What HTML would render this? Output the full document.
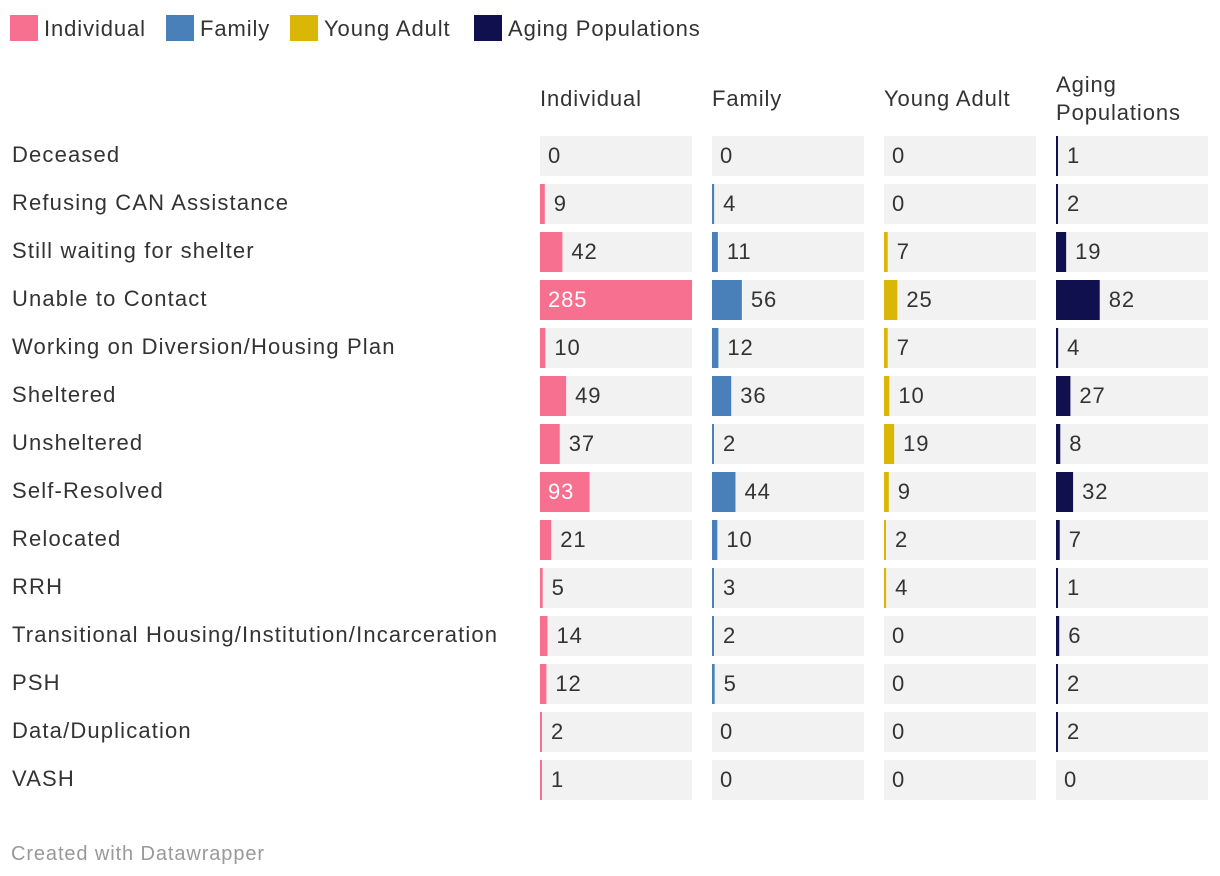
<!DOCTYPE html>
<html><head><meta charset="utf-8"><style>
body{margin:0;background:#fff;font-family:"Liberation Sans",sans-serif;color:#333;}
#wrap{position:relative;width:1220px;height:876px;overflow:hidden;}
.t{position:absolute;white-space:nowrap;font-size:22px;line-height:24px;letter-spacing:0.9px;}
.rl{letter-spacing:1.15px;}
</style></head><body>
<div id="wrap">
<svg id="svg" width="1220" height="876" style="position:absolute;left:0;top:0"></svg>
</div>
<script>
const categories=["Deceased","Refusing CAN Assistance","Still waiting for shelter","Unable to Contact","Working on Diversion/Housing Plan","Sheltered","Unsheltered","Self-Resolved","Relocated","RRH","Transitional Housing/Institution/Incarceration","PSH","Data/Duplication","VASH"];
const seriesNames=["Individual","Family","Young Adult","Aging Populations"];
const individual=[0,9,42,285,10,49,37,93,21,5,14,12,2,1];
const family=[0,4,11,56,12,36,2,44,10,3,2,5,0,0];
const youngAdult=[0,0,7,25,7,10,19,9,2,4,0,0,0,0];
const aging=[1,2,19,82,4,27,8,32,7,1,6,2,2,0];
const series=[individual,family,youngAdult,aging];
const colors=["#f7708f","#4a80b9","#dab607","#10104f"];
const NS="http://www.w3.org/2000/svg";
const svg=document.getElementById('svg');
const wrap=document.getElementById('wrap');
const colX=[540,712,884,1056],colW=152,rowY0=136,rowStep=48,rowH=40;
const maxV=Math.max(...series.flat());
const xs=v=>v/maxV*colW;
const ys=i=>rowY0+i*rowStep;
function txt(s,x,y,opts){const d=document.createElement('div');d.className='t';d.textContent=s;d.style.left=x+'px';d.style.top=y+'px';if(opts&&opts.color)d.style.color=opts.color;if(opts&&opts.size)d.style.fontSize=opts.size+'px';wrap.appendChild(d);return d;}
const legX=[10,166,290,474];
seriesNames.forEach((n,k)=>{const r=document.createElementNS(NS,'rect');r.setAttribute('x',legX[k]);r.setAttribute('y',15);r.setAttribute('width',28);r.setAttribute('height',26);r.setAttribute('fill',colors[k]);


svg.appendChild(r);
const d=txt(n,legX[k]+34,17);

});
const hdrs=["Individual","Family","Young Adult","Aging\nPopulations"];
hdrs.forEach((h,k)=>{const lines=h.split("\n");lines.forEach((l,j)=>{const d=txt(l,colX[k],(lines.length>1?73:87)+j*28);

});});
categories.forEach((c,i)=>{const y=ys(i);
const d=txt(c,12,y+7);
d.classList.add('rl');


series.forEach((s,k)=>{const v=s[i];
const bg=document.createElementNS(NS,'rect');bg.setAttribute('x',colX[k]);bg.setAttribute('y',y);bg.setAttribute('width',colW);bg.setAttribute('height',rowH);bg.setAttribute('fill','#f2f2f2');


svg.appendChild(bg);
let w=v>0?Math.max(2,xs(v)):0;
if(w>0){const b=document.createElementNS(NS,'rect');b.setAttribute('x',colX[k]);b.setAttribute('y',y);b.setAttribute('width',w);b.setAttribute('height',rowH);b.setAttribute('fill',colors[k]);


svg.appendChild(b);}
const label=String(v);const tw=label.length*13;
let inside=w>tw+22;
const d2=txt(label,inside?colX[k]+8:colX[k]+(w>0?w+9:8),y+8,{color:inside?'#fff':'#333'});

});});
const f=txt("Created with Datawrapper",11,842,{color:'#999',size:20});


</script>
</body></html>
